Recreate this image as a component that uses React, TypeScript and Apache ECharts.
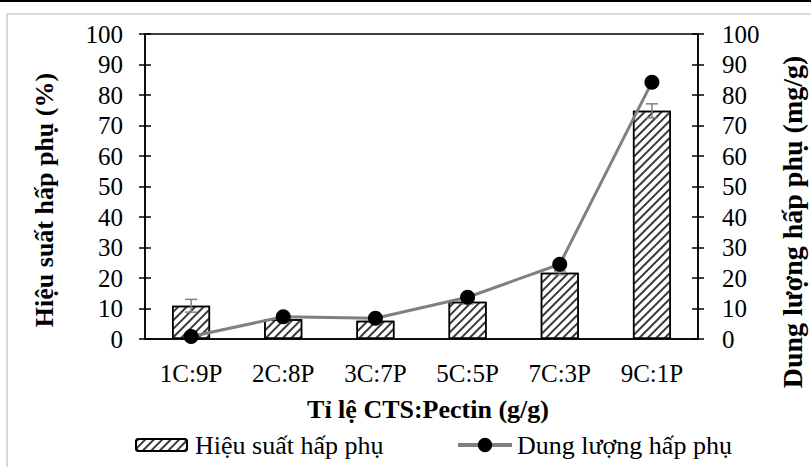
import React, { useEffect, useRef } from "react";
import * as echarts from "echarts";

const categories = ["1C:9P", "2C:8P", "3C:7P", "5C:5P", "7C:3P", "9C:1P"];
const efficiency = [10.9, 6.5, 6.0, 12.2, 21.7, 74.8];
const efficiencyErr = [2.1, 0.8, 0.5, 0.7, 0.6, 2.3];
const capacity = [0.8, 7.3, 6.8, 13.7, 24.5, 84.2];
const xTitle = "Tỉ lệ CTS:Pectin (g/g)";
const yLeftTitle = "Hiệu suất hấp phụ (%)";
const yRightTitle = "Dung lượng hấp phụ (mg/g)";
const barName = "Hiệu suất hấp phụ";
const lineName = "Dung lượng hấp phụ";

const FONT = '"Liberation Serif", "Times New Roman", serif';

export default function App() {
  const ref = useRef<HTMLDivElement>(null);
  useEffect(() => {
    if (!ref.current) return;
    const chart = echarts.init(ref.current, null, { renderer: "svg" });
    const decal = {
      symbol: "rect",
      symbolSize: 1,
      color: "#3a3a3a",
      backgroundColor: "#fff",
      dashArrayX: [1, 0],
      dashArrayY: [1.6, 3.4],
      rotation: -Math.PI / 4,
    };
    const yBase = (pos: "left" | "right") => ({
      type: "value",
      position: pos,
      min: 0,
      max: 100,
      interval: 10,
      splitLine: { show: false },
    });
    const titleStyle = { fontFamily: FONT, fontSize: 26, fontWeight: "bold", fill: "#000", align: "center", verticalAlign: "middle" };
    const legendText = { fontFamily: FONT, fontSize: 26, color: "#000", padding: [0, 0, 0, 3] };
    const errData = efficiency.map((v, i) => [i, v, efficiencyErr[i]]);
    chart.setOption({
      animation: false,
      textStyle: { fontFamily: FONT },
      grid: {
        left: 145,
        right: 113,
        top: 34,
        bottom: 128,
        show: true,
        borderColor: "#000",
        borderWidth: 1.5,
        backgroundColor: "transparent",
      },
      graphic: [
        { type: "line", shape: { x1: 0, y1: 1, x2: 811, y2: 1 }, style: { stroke: "#000", lineWidth: 2 } },
        { type: "rect", shape: { x: 7, y: 14, width: 830, height: 480 }, style: { fill: "none", stroke: "#d9d9d9", lineWidth: 2 } },
        { type: "text", x: 428, y: 409, style: { text: xTitle, ...titleStyle } },
        { type: "text", x: 44, y: 200, rotation: Math.PI / 2, style: { text: yLeftTitle, ...titleStyle } },
        { type: "text", x: 792, y: 222, rotation: Math.PI / 2, style: { text: yRightTitle, ...titleStyle, fontSize: 28 } },
      ],
      legend: [
        {
          left: 135,
          top: 432,
          padding: 0,
          itemWidth: 51,
          itemHeight: 12,
          textStyle: legendText,
          data: [barName],
        },
        {
          left: 456,
          top: 432,
          padding: 0,
          itemWidth: 54,
          itemHeight: 18,
          lineStyle: { width: 4, color: "#808080" },
          textStyle: { ...legendText, padding: [0, 0, 0, 0] },
          data: [lineName],
        },
      ],
      xAxis: {
        type: "category",
        data: categories,
        axisLine: { lineStyle: { color: "#000", width: 1.5 } },
        axisTick: { show: false },
        axisLabel: { fontFamily: FONT, fontSize: 25, color: "#000", margin: 22 },
      },
      yAxis: [
        {
          ...yBase("left"),
          axisLine: { show: true, lineStyle: { color: "#000", width: 1.5 } },
          axisTick: { show: true, length: 6, lineStyle: { color: "#000", width: 1.5 } },
          axisLabel: { fontFamily: FONT, fontSize: 25, color: "#000", margin: 22 },
        },
        {
          ...yBase("right"),
          axisLine: { show: true, lineStyle: { color: "#000", width: 1.5 } },
          axisTick: { show: true, length: 6, lineStyle: { color: "#000", width: 1.5 } },
          axisLabel: { fontFamily: FONT, fontSize: 25, color: "#000", margin: 24 },
        },
        {
          ...yBase("left"),
          axisLine: { show: false },
          axisTick: { show: true, inside: true, length: 6, lineStyle: { color: "#000", width: 1.5 } },
          axisLabel: { show: false },
        },
        {
          ...yBase("right"),
          axisLine: { show: false },
          axisTick: { show: true, inside: true, length: 6, lineStyle: { color: "#000", width: 1.5 } },
          axisLabel: { show: false },
        },
      ],
      series: [
        {
          name: barName,
          type: "bar",
          yAxisIndex: 0,
          barWidth: 38,
          data: efficiency,
          itemStyle: { color: "#fff", borderColor: "#000", borderWidth: 1.5, decal },
          z: 2,
        },
        {
          name: "err",
          type: "custom",
          yAxisIndex: 0,
          data: errData,
          encode: { x: 0, y: 1 },
          z: 3,
          renderItem: (params: any, api: any) => {
            const i = api.value(0);
            const v = api.value(1);
            const e = api.value(2);
            const top = api.coord([i, v + e]);
            const bot = api.coord([i, v - e]);
            const st = { stroke: "#808080", lineWidth: 1.5 };
            return {
              type: "group",
              children: [
                { type: "line", shape: { x1: top[0], y1: top[1], x2: bot[0], y2: bot[1] }, style: st },
                { type: "line", shape: { x1: top[0] - 6, y1: top[1], x2: top[0] + 6, y2: top[1] }, style: st },
                { type: "line", shape: { x1: bot[0] - 6, y1: bot[1], x2: bot[0] + 6, y2: bot[1] }, style: st },
              ],
            };
          },
        },
        {
          name: lineName,
          type: "line",
          yAxisIndex: 1,
          data: capacity,
          symbol: "circle",
          symbolSize: 15,
          lineStyle: { color: "#808080", width: 3 },
          itemStyle: { color: "#000" },
          z: 4,
        },
      ],
    });
    return () => chart.dispose();
  }, []);
  return <div ref={ref} style={{ position: "fixed", left: 0, top: 0, width: 811, height: 467, background: "#fff" }} />;
}
